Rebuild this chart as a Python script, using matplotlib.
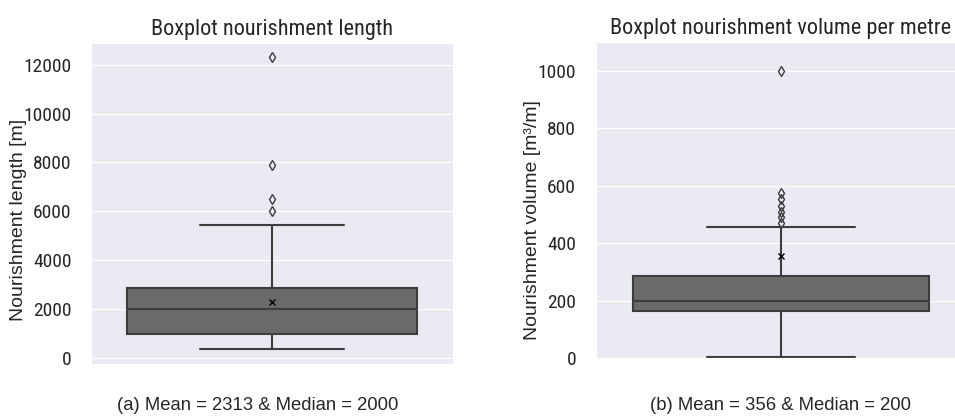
import matplotlib
matplotlib.use("Agg")
import matplotlib.pyplot as plt
import seaborn as sns

# summary statistics
length_stats = dict(whislo=370, q1=1000, med=2000, q3=2880, whishi=5450,
                    mean=2313, fliers=[6000, 6500, 7900, 12300])
volume_stats = dict(whislo=3, q1=163, med=200, q3=285, whishi=455,
                    mean=356, fliers=[470, 490, 510, 530, 555, 575, 1000])

titles = ["Boxplot nourishment length", "Boxplot nourishment volume per metre"]
ylabels = ["Nourishment length [m]", "Nourishment volume [m³/m]"]
captions = ["(a) Mean = 2313 & Median = 2000", "(b) Mean = 356 & Median = 200"]

sns.set_style("darkgrid")
narrow = ["Liberation Sans Narrow", "Roboto Condensed", "DejaVu Sans"]
regular = ["Liberation Sans", "DejaVu Sans"]

fig = plt.figure(figsize=(9.55, 4.16), dpi=100)
ax1 = fig.add_axes([0.0953, 0.125, 0.379, 0.7716])
ax2 = fig.add_axes([0.6236, 0.1394, 0.3885, 0.7596])

box_face = "#6a6a6a"
line_col = "#3d3d3d"

for ax, st, title, ylab in zip([ax1, ax2], [length_stats, volume_stats], titles, ylabels):
    s = dict(st)
    s["label"] = ""
    ax.bxp([s], positions=[0], widths=0.8, patch_artist=True, showmeans=True,
           boxprops=dict(facecolor=box_face, edgecolor=line_col, linewidth=1.5),
           medianprops=dict(color=line_col, linewidth=1.5),
           whiskerprops=dict(color=line_col, linewidth=1.5),
           capprops=dict(color=line_col, linewidth=1.5),
           capwidths=0.4,
           meanprops=dict(marker="x", markeredgecolor="black", markersize=5),
           flierprops=dict(marker="d", markerfacecolor="none", markeredgewidth=1,
                           markeredgecolor=line_col, markersize=5))
    ax.set_xlim(-0.5, 0.5)
    ax.set_xticks([])
    ax.set_title(title, family=narrow, fontsize=16, pad=6)
    ax.set_ylabel(ylab, family=regular, fontsize=14)
    ax.tick_params(axis="y", length=0, pad=14)
    ax.grid(axis="x", visible=False)

ax1.set_ylim(-230, 12880)
ax1.set_yticks([0, 2000, 4000, 6000, 8000, 10000, 12000])
ax2.set_ylim(0, 1100)
ax2.set_yticks([0, 200, 400, 600, 800, 1000])
ax1.yaxis.set_label_coords(-0.177, 0.449)
ax2.yaxis.set_label_coords(-0.147, 0.437)
for ax in [ax1, ax2]:
    for lab in ax.get_yticklabels():
        lab.set_family(narrow)
        lab.set_fontsize(14)

fig.text(0.27, 0.026, captions[0], ha="center", va="center", family=regular, fontsize=13.3)
fig.text(0.817, 0.026, captions[1], ha="center", va="center", family=regular, fontsize=13.3)

fig.savefig("out.png", dpi=100)
